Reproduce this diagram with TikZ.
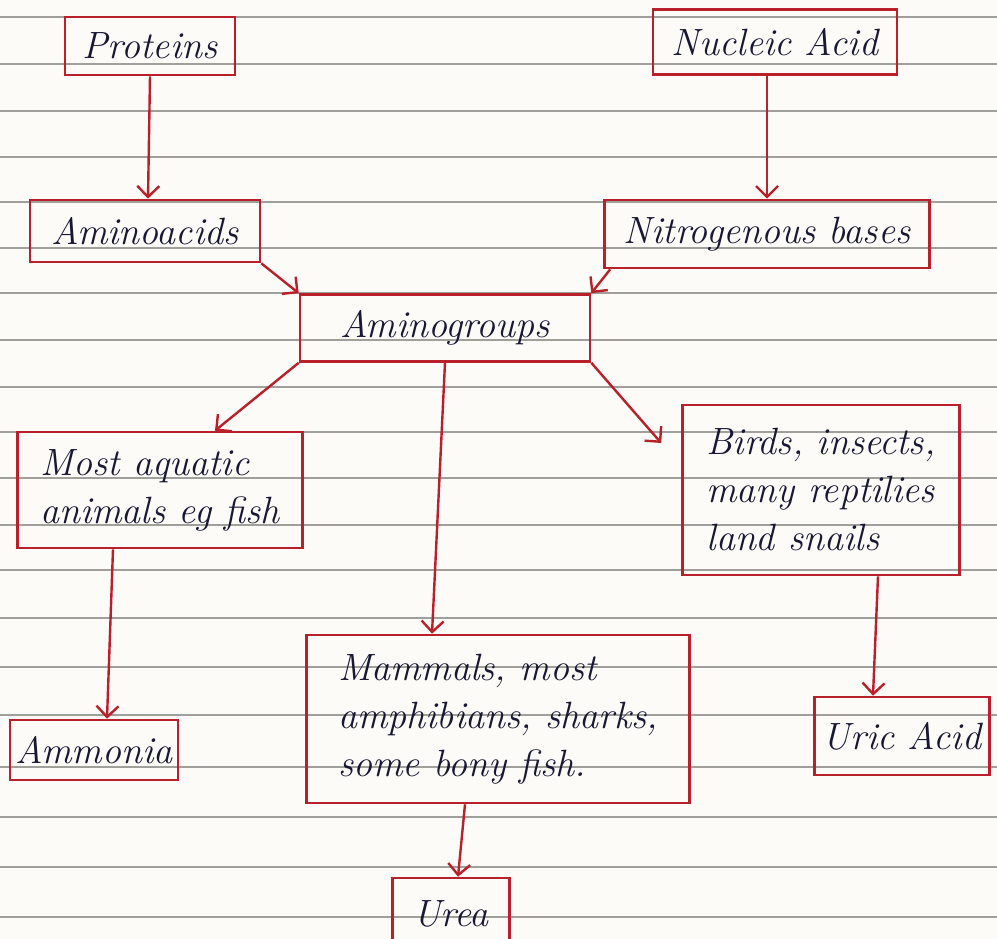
\documentclass[tikz,border=0pt]{standalone}
\usepackage{fontspec}
\usetikzlibrary{arrows.meta}
\definecolor{inkred}{RGB}{186,32,42}
\definecolor{ink}{RGB}{24,24,52}
\definecolor{ruleline}{RGB}{160,160,155}
\definecolor{paper}{RGB}{252,251,248}
\begin{document}
\begin{tikzpicture}[x=1pt,y=-1pt,
  box/.style={draw=inkred, line width=2.6pt, text=ink,
    font=\itshape\fontsize{38}{48}\selectfont, align=left, inner sep=0pt},
  conn/.style={draw=inkred, line width=2.4pt,
    -{Straight Barb[length=11pt,width=22pt]}}]
\useasboundingbox (0,0) rectangle (997,939);
\fill[paper] (0,0) rectangle (997,939);
% ruled paper
\foreach \yy in {17,64,111,157,202,248,293,340,387,432,478,525,570,618,667,715,767,817,867,917}
  \draw[ruleline, line width=1.3pt] (0,\yy) -- (997,\yy);

% boxes
\node[box, minimum width=170pt, minimum height=58pt] (prot) at (150,46) {Proteins};
\node[box, minimum width=244pt, minimum height=65pt] (nuc) at (775,42) {Nucleic Acid};
\node[box, minimum width=230pt, minimum height=62pt] (amino) at (145,231) {Aminoacids};
\node[box, minimum width=325pt, minimum height=68pt] (nitro) at (767,234) {Nitrogenous bases};
\node[box, minimum width=290pt, minimum height=67pt] (groups) at (445,328) {Aminogroups};
\node[box, minimum width=285pt, minimum height=116pt] (aqua) at (160,490) {Most aquatic\\animals eg fish};
\node[box, minimum width=277pt, minimum height=170pt] (birds) at (821,490) {Birds, insects,\\many reptilies\\land snails};
\node[box, minimum width=383pt, minimum height=168pt] (mamm) at (498,719) {Mammals, most\\amphibians, sharks,\\some bony fish.};
\node[box, minimum width=168pt, minimum height=60pt] (ammo) at (94,750) {Ammonia};
\node[box, minimum width=175pt, minimum height=78pt] (uric) at (902,736) {Uric Acid};
\node[box, minimum width=117pt, minimum height=72pt] (urea) at (451,914) {Urea};

% connectors
\draw[conn] (prot.south) -- ([xshift=3pt]amino.north);
\draw[conn] ([xshift=-8pt]nuc.south) -- (nitro.north);
\draw[conn] (amino.south east) -- (groups.north west);
\draw[conn] ([xshift=7pt]nitro.south west) -- (groups.north east);
\draw[conn] (groups.south west) -- ([xshift=55pt]aqua.north);
\draw[conn] (groups.south) -- ([xshift=-66pt]mamm.north);
\draw[conn] (groups.south east) -- ([shift={(-20pt,47pt)}]birds.west);
\draw[conn] ([xshift=-47pt]aqua.south) -- ([xshift=13pt]ammo.north);
\draw[conn] ([xshift=57pt]birds.south) -- ([xshift=-29pt]uric.north);
\draw[conn] ([xshift=-33pt]mamm.south) -- ([xshift=7pt]urea.north);
\end{tikzpicture}
\end{document}
